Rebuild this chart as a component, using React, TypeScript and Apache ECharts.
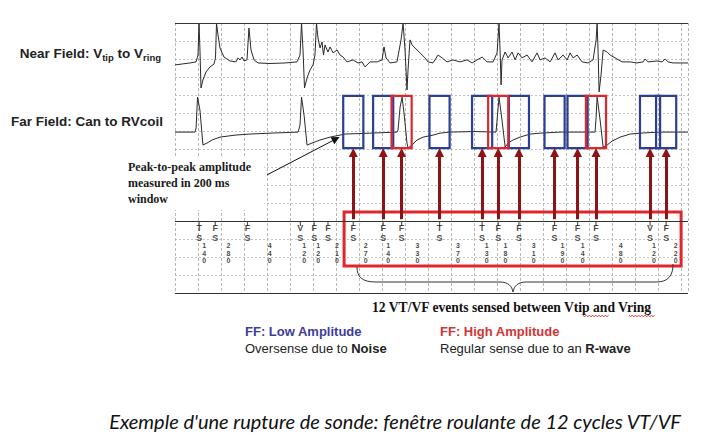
import React, { useEffect, useRef } from "react";
import * as echarts from "echarts";

// Time in ms, amplitude in grid rows (positive = up)
const NEAR_FIELD: [number, number][] = [
  [0, -0.11], [130, 0], [183, 0.06], [200, 0.44], [209, 2.2], [217, 0.72], [226, -1.39], [243, -0.94], [270, -0.5], [304, -0.22], [339, -0.06],
  [352, 0.28], [361, 2.2], [374, 1.56], [391, 0.83], [426, 0.33], [478, 0.11], [530, 0.06], [548, 0.28], [565, 0.17], [583, 0.33], [600, 0.11], [626, 0.17],
  [643, 1.94], [661, 0.72], [687, 0.17], [722, 0], [826, -0.03], [957, 0], [1061, 0.06], [1087, 0.44], [1100, 2.2], [1113, 0.72], [1126, -1.39], [1148, -0.83], [1174, -0.39], [1200, -0.11],
  [1217, 0.44], [1230, 2.2], [1243, 1.39], [1261, 0.83], [1278, 1.17], [1291, 0.44], [1304, 1.0], [1330, 0.61], [1348, 0.89], [1374, 0.56], [1409, 0.72], [1435, 0.44], [1461, 0.33], [1496, 0.06],
  [1548, 0.17], [1591, 0], [1626, 0.06], [1652, -0.22], [1696, 0.06], [1757, 0.06], [1800, 0.17], [1817, 0.89], [1835, 0.28], [1870, 0], [1930, 0.06],
  [1965, 1.28], [1983, 2.2], [2000, 0.72], [2017, -1.5], [2026, -0.39], [2043, 1.28], [2061, 1.0], [2087, 0.83], [2130, 0.56], [2174, 0.28], [2200, 0.06], [2243, 0],
  [2287, 0.44], [2322, 0.28], [2365, 0.06], [2417, 0.17], [2478, 0.06], [2539, 0.17], [2583, 0], [2626, 0.17], [2670, 0.33], [2713, 0.06], [2765, 0.06],
  [2800, 0.56], [2817, 2.2], [2826, 0.72], [2835, -1.22], [2843, 0.17], [2870, 0.61], [2896, 0.28], [2930, 0.61], [2957, 0.17], [2983, 0.56], [3017, 0.28], [3061, 0.44], [3104, 0.06],
  [3148, 0.56], [3174, 0.17], [3217, 0.28], [3261, 0.06], [3304, 0.56], [3330, 0.17], [3374, 0.44], [3409, 0.17], [3435, 0.56], [3461, 0.28], [3496, 0.44], [3539, 0.06], [3591, 0], [3635, 0.17],
  [3661, 1.28], [3670, 2.2], [3678, 0.72], [3687, -1.61], [3704, -0.67], [3722, 0.72], [3757, 0.61], [3783, 0.44], [3826, 0.28], [3887, 0.06], [3957, 0.06], [4017, 0], [4070, 0.06],
  [4087, 0.22], [4113, 0.06], [4191, 0.11], [4235, 0.06], [4261, 0.22], [4287, 0.06], [4330, 0], [4460, 0],
];

const FAR_FIELD: [number, number][] = [
  [0, 0], [174, 0], [183, 0.22], [196, 1.94], [217, 1.22], [243, -0.72], [278, -0.61], [322, -0.44], [391, -0.28], [522, -0.17], [652, -0.11], [826, -0.06],
  [1070, 0], [1087, 0.39], [1100, 1.94], [1122, 0.94], [1148, -0.72], [1191, -0.61], [1261, -0.44], [1348, -0.28], [1478, -0.11], [1696, -0.06],
  [1930, 0], [1939, 0.11], [1957, 1.39], [1974, 1.94], [1991, 1.06], [2017, -0.61], [2026, -0.89], [2061, -0.72], [2104, -0.44], [2157, -0.28], [2243, -0.17], [2304, -0.06],
  [2391, 0], [2600, 0.03], [2791, 0], [2800, 0.67], [2817, 1.94], [2843, 0.67], [2870, -0.83], [2896, -0.61], [2939, -0.44], [3000, -0.28], [3087, -0.11], [3174, -0.06],
  [3348, 0], [3652, 0], [3661, 0.83], [3670, 1.94], [3696, 0.67], [3722, -0.83], [3757, -0.72], [3800, -0.5], [3870, -0.28], [3957, -0.11], [4043, -0.06], [4217, 0], [4460, 0],
];

// Device markers and the intervals (ms) printed under the marker channel
const MARKER_TIMES = [210, 350, 630, 1090, 1210, 1330, 1550, 1810, 1970, 2300, 2670, 2810, 2990, 3300, 3500, 3660, 4130, 4270];
const MARKER_TYPES = ["TS", "FS", "FS", "VS", "FS", "FS", "FS", "FS", "FS", "TS", "TS", "FS", "FS", "FS", "FS", "FS", "VS", "FS"];
const INTERVALS_MS = [140, 280, 440, 120, 120, 210, 270, 140, 330, 370, 130, 180, 310, 190, 140, 480, 120, 220];

// The 12-event rolling window (last 12 markers) and each event's far-field amplitude
const WINDOW_FIRST_INDEX = 6;
const WINDOW_AMPLITUDE = ["low", "low", "high", "low", "low", "high", "low", "low", "low", "high", "low", "low"];
const WINDOW_SPAN_MS = [1470, 4400];
const BOX_WIDTH_MS = 175;

const X_MAX = 4460;
const Y_MAX = 15;
const NEAR_BASE = 12.78;
const FAR_BASE = 8.94;
const MARKER_Y = 4;
const BOX_BOTTOM = 8.05;
const BOX_TOP = 10.95;

const BLUE = "#2b3f95";
const RED = "#e0262a";
const DARK_RED = "#8c1414";
const INK = "#2a2a2a";
const SANS = "'Liberation Sans', Arial, sans-serif";
const SERIF = "'Liberation Serif', 'Times New Roman', serif";

function squiggle(x0: number, x1: number, y: number) {
  const pts: number[][] = [];
  let up = true;
  for (let x = x0; x <= x1; x += 1.6) {
    pts.push([x, up ? y - 1 : y + 1]);
    up = !up;
  }
  return pts;
}

export default function App() {
  const ref = useRef<HTMLDivElement>(null);
  useEffect(() => {
    if (!ref.current) return;
    const chart = echarts.init(ref.current, null, { renderer: "svg" });
    const windowTimes = MARKER_TIMES.slice(WINDOW_FIRST_INDEX);

    const option: any = {
      animation: false,
      backgroundColor: "#ffffff",
      grid: { left: 175, top: 23, width: 513, height: 270, containLabel: false },
      xAxis: {
        type: "value", min: 0, max: X_MAX, interval: 200,
        axisLine: { show: false }, axisTick: { show: false }, axisLabel: { show: false },
        splitLine: { show: true, lineStyle: { color: "#b8b8b8", width: 1, type: [3, 2] } },
      },
      yAxis: {
        type: "value", min: 0, max: Y_MAX, interval: 1,
        axisLine: { show: false }, axisTick: { show: false }, axisLabel: { show: false },
        splitLine: { show: true, lineStyle: { color: "#c4c4c4", width: 1, type: [2, 2] } },
      },
      series: [
        {
          name: "Near Field", type: "line", showSymbol: false, silent: true,
          data: NEAR_FIELD.map(([t, a]) => [t, NEAR_BASE + a]),
          lineStyle: { color: INK, width: 1 },
          markLine: {
            silent: true, symbol: "none", label: { show: false },
            lineStyle: { color: "#333", width: 1.2, type: "solid" },
            data: [{ yAxis: Y_MAX }, { yAxis: 0 }, { yAxis: MARKER_Y }],
          },
        },
        {
          name: "Far Field", type: "line", showSymbol: false, silent: true,
          data: FAR_FIELD.map(([t, a]) => [t, FAR_BASE + a]),
          lineStyle: { color: INK, width: 1 },
        },
        {
          name: "marker ticks", type: "scatter", silent: true,
          data: MARKER_TIMES.map((t) => [t, MARKER_Y]),
          symbol: "rect", symbolSize: [1.2, 5], symbolOffset: [0, 2.5],
          itemStyle: { color: "#333" },
        },
        {
          name: "marker letters", type: "scatter", silent: true, symbolSize: 0,
          data: MARKER_TIMES.map((t, i) => ({ value: [t, MARKER_Y], name: MARKER_TYPES[i] })),
          label: {
            show: true, position: "inside", offset: [0, 12],
            formatter: (p: any) => p.name.split("").join("\n"),
            fontSize: 9, fontWeight: "bold", fontFamily: SANS, color: "#1a1a1a", lineHeight: 10,
          },
          markArea: {
            silent: true,
            itemStyle: { color: "rgba(0,0,0,0)", borderColor: RED, borderWidth: 3 },
            data: [[{ xAxis: WINDOW_SPAN_MS[0], yAxis: 4.5 }, { xAxis: WINDOW_SPAN_MS[1], yAxis: 1.5 }]],
          },
        },
        {
          name: "intervals", type: "scatter", silent: true, symbolSize: 0,
          data: INTERVALS_MS.map((d, i) => ({ value: [MARKER_TIMES[i] + d / 2, MARKER_Y], name: String(d) })),
          label: {
            show: true, position: "inside", offset: [-3, 32],
            formatter: (p: any) => p.name.split("").join("\n"),
            fontSize: 7, fontWeight: "bold", fontFamily: SANS, color: "#111", lineHeight: 7.5,
          },
        },
        {
          name: "windows", type: "custom", silent: true, z: 4,
          data: windowTimes.map((t, i) => [t, BOX_BOTTOM, WINDOW_AMPLITUDE[i] === "high" ? 1 : 0]),
          renderItem: (_params: any, api: any) => {
            const t = api.value(0);
            const hi = api.value(2) === 1;
            const p0 = api.coord([t - BOX_WIDTH_MS / 2, BOX_TOP]);
            const p1 = api.coord([t + BOX_WIDTH_MS / 2, BOX_BOTTOM]);
            return {
              type: "rect",
              z2: hi ? 10 : 1,
              shape: { x: p0[0], y: p0[1], width: p1[0] - p0[0], height: p1[1] - p0[1] },
              style: { fill: "none", stroke: hi ? RED : BLUE, lineWidth: 2.2 },
            };
          },
        },
        {
          name: "sensing arrows", type: "lines", coordinateSystem: "cartesian2d", silent: true, z: 5,
          symbol: ["none", "triangle"], symbolSize: 9,
          lineStyle: { color: DARK_RED, width: 3, opacity: 1 },
          data: windowTimes.map((t) => ({ coords: [[t, 4.1], [t, 7.8]] })),
        },
        {
          name: "annotation arrow", type: "lines", coordinateSystem: "cartesian2d", silent: true, z: 5,
          symbol: ["none", "triangle"], symbolSize: 8,
          lineStyle: { color: "#111", width: 1, opacity: 1 },
          data: [{ coords: [[800, 6.56], [1400, 8.56]] }],
        },
      ],
      graphic: [
        {
          type: "text", x: 161, y: 53, z: 60,
          style: {
            text: "{b|Near Field: V}{s|tip}{b| to V}{s|ring}",
            align: "right", verticalAlign: "middle",
            rich: {
              b: { fontFamily: SANS, fontWeight: "bold", fontSize: 13.5, fill: "#222" },
              s: { fontFamily: SANS, fontWeight: "bold", fontSize: 9.5, fill: "#222", padding: [8, 0, 0, 0] },
            },
          },
        },
        {
          type: "text", x: 163, y: 121, z: 60,
          style: {
            text: "Far Field: Can to RVcoil", align: "right", verticalAlign: "middle",
            font: `bold 13.5px ${SANS}`, fill: "#222",
          },
        },
        { type: "rect", z: 50, shape: { x: 124, y: 157, width: 140, height: 53 }, style: { fill: "#ffffff" } },
        {
          type: "text", x: 128, y: 183, z: 60,
          style: {
            text: "Peak-to-peak amplitude\nmeasured in 200 ms\nwindow",
            font: `bold 12px ${SERIF}`, fill: "#1a1a1a", lineHeight: 16,
            align: "left", verticalAlign: "middle",
          },
        },
        // brace under the 12-event window
        { type: "bezierCurve", z: 60, shape: { x1: 357, y1: 267, cpx1: 357, cpy1: 277, cpx2: 362, cpy2: 282, x2: 376, y2: 282 }, style: { stroke: "#333", lineWidth: 1, fill: "none" } },
        { type: "line", z: 60, shape: { x1: 376, y1: 282, x2: 500, y2: 282 }, style: { stroke: "#333", lineWidth: 1 } },
        { type: "bezierCurve", z: 60, shape: { x1: 500, y1: 282, cpx1: 508, cpy1: 282, cpx2: 512, cpy2: 286, x2: 513, y2: 292 }, style: { stroke: "#333", lineWidth: 1, fill: "none" } },
        { type: "bezierCurve", z: 60, shape: { x1: 513, y1: 292, cpx1: 514, cpy1: 286, cpx2: 518, cpy2: 282, x2: 526, y2: 282 }, style: { stroke: "#333", lineWidth: 1, fill: "none" } },
        { type: "line", z: 60, shape: { x1: 526, y1: 282, x2: 656, y2: 282 }, style: { stroke: "#333", lineWidth: 1 } },
        { type: "bezierCurve", z: 60, shape: { x1: 656, y1: 282, cpx1: 668, cpy1: 282, cpx2: 673, cpy2: 276, x2: 673, y2: 264 }, style: { stroke: "#333", lineWidth: 1, fill: "none" } },
        {
          type: "text", x: 372, y: 307, z: 60,
          style: {
            text: "12 VT/VF events sensed between Vtip and Vring",
            font: `bold 13.6px ${SERIF}`, fill: "#111", align: "left", verticalAlign: "middle",
          },
        },
        { type: "polyline", z: 61, shape: { points: squiggle(583, 609, 316) }, style: { stroke: "#e03030", lineWidth: 0.8, fill: "none" } },
        { type: "polyline", z: 61, shape: { points: squiggle(629, 656, 316) }, style: { stroke: "#e03030", lineWidth: 0.8, fill: "none" } },
        {
          type: "text", x: 245, y: 331, z: 60,
          style: { text: "FF: Low Amplitude", font: `bold 13px ${SANS}`, fill: "#3d3d9e", align: "left", verticalAlign: "middle" },
        },
        {
          type: "text", x: 245, y: 348, z: 60,
          style: {
            text: "Oversense due to {b|Noise}", font: `13px ${SANS}`, fill: "#222", align: "left", verticalAlign: "middle",
            rich: { b: { fontFamily: SANS, fontWeight: "bold", fontSize: 13, fill: "#222" } },
          },
        },
        {
          type: "text", x: 440, y: 331, z: 60,
          style: { text: "FF: High Amplitude", font: `bold 13px ${SANS}`, fill: "#d43434", align: "left", verticalAlign: "middle" },
        },
        {
          type: "text", x: 440, y: 348, z: 60,
          style: {
            text: "Regular sense due to an {b|R-wave}", font: `13px ${SANS}`, fill: "#222", align: "left", verticalAlign: "middle",
            rich: { b: { fontFamily: SANS, fontWeight: "bold", fontSize: 13, fill: "#222" } },
          },
        },
        {
          type: "text", x: 395, y: 421, z: 60,
          style: {
            text: "Exemple d'une rupture de sonde: fenêtre roulante de 12 cycles VT/VF",
            font: "italic 20px Lato, 'Open Sans', sans-serif", fill: "#111", align: "center", verticalAlign: "middle",
          },
        },
      ],
    };
    chart.setOption(option);
    return () => chart.dispose();
  }, []);
  return <div ref={ref} style={{ position: "fixed", left: 0, top: 0, width: 720, height: 447, background: "#fff" }} />;
}
